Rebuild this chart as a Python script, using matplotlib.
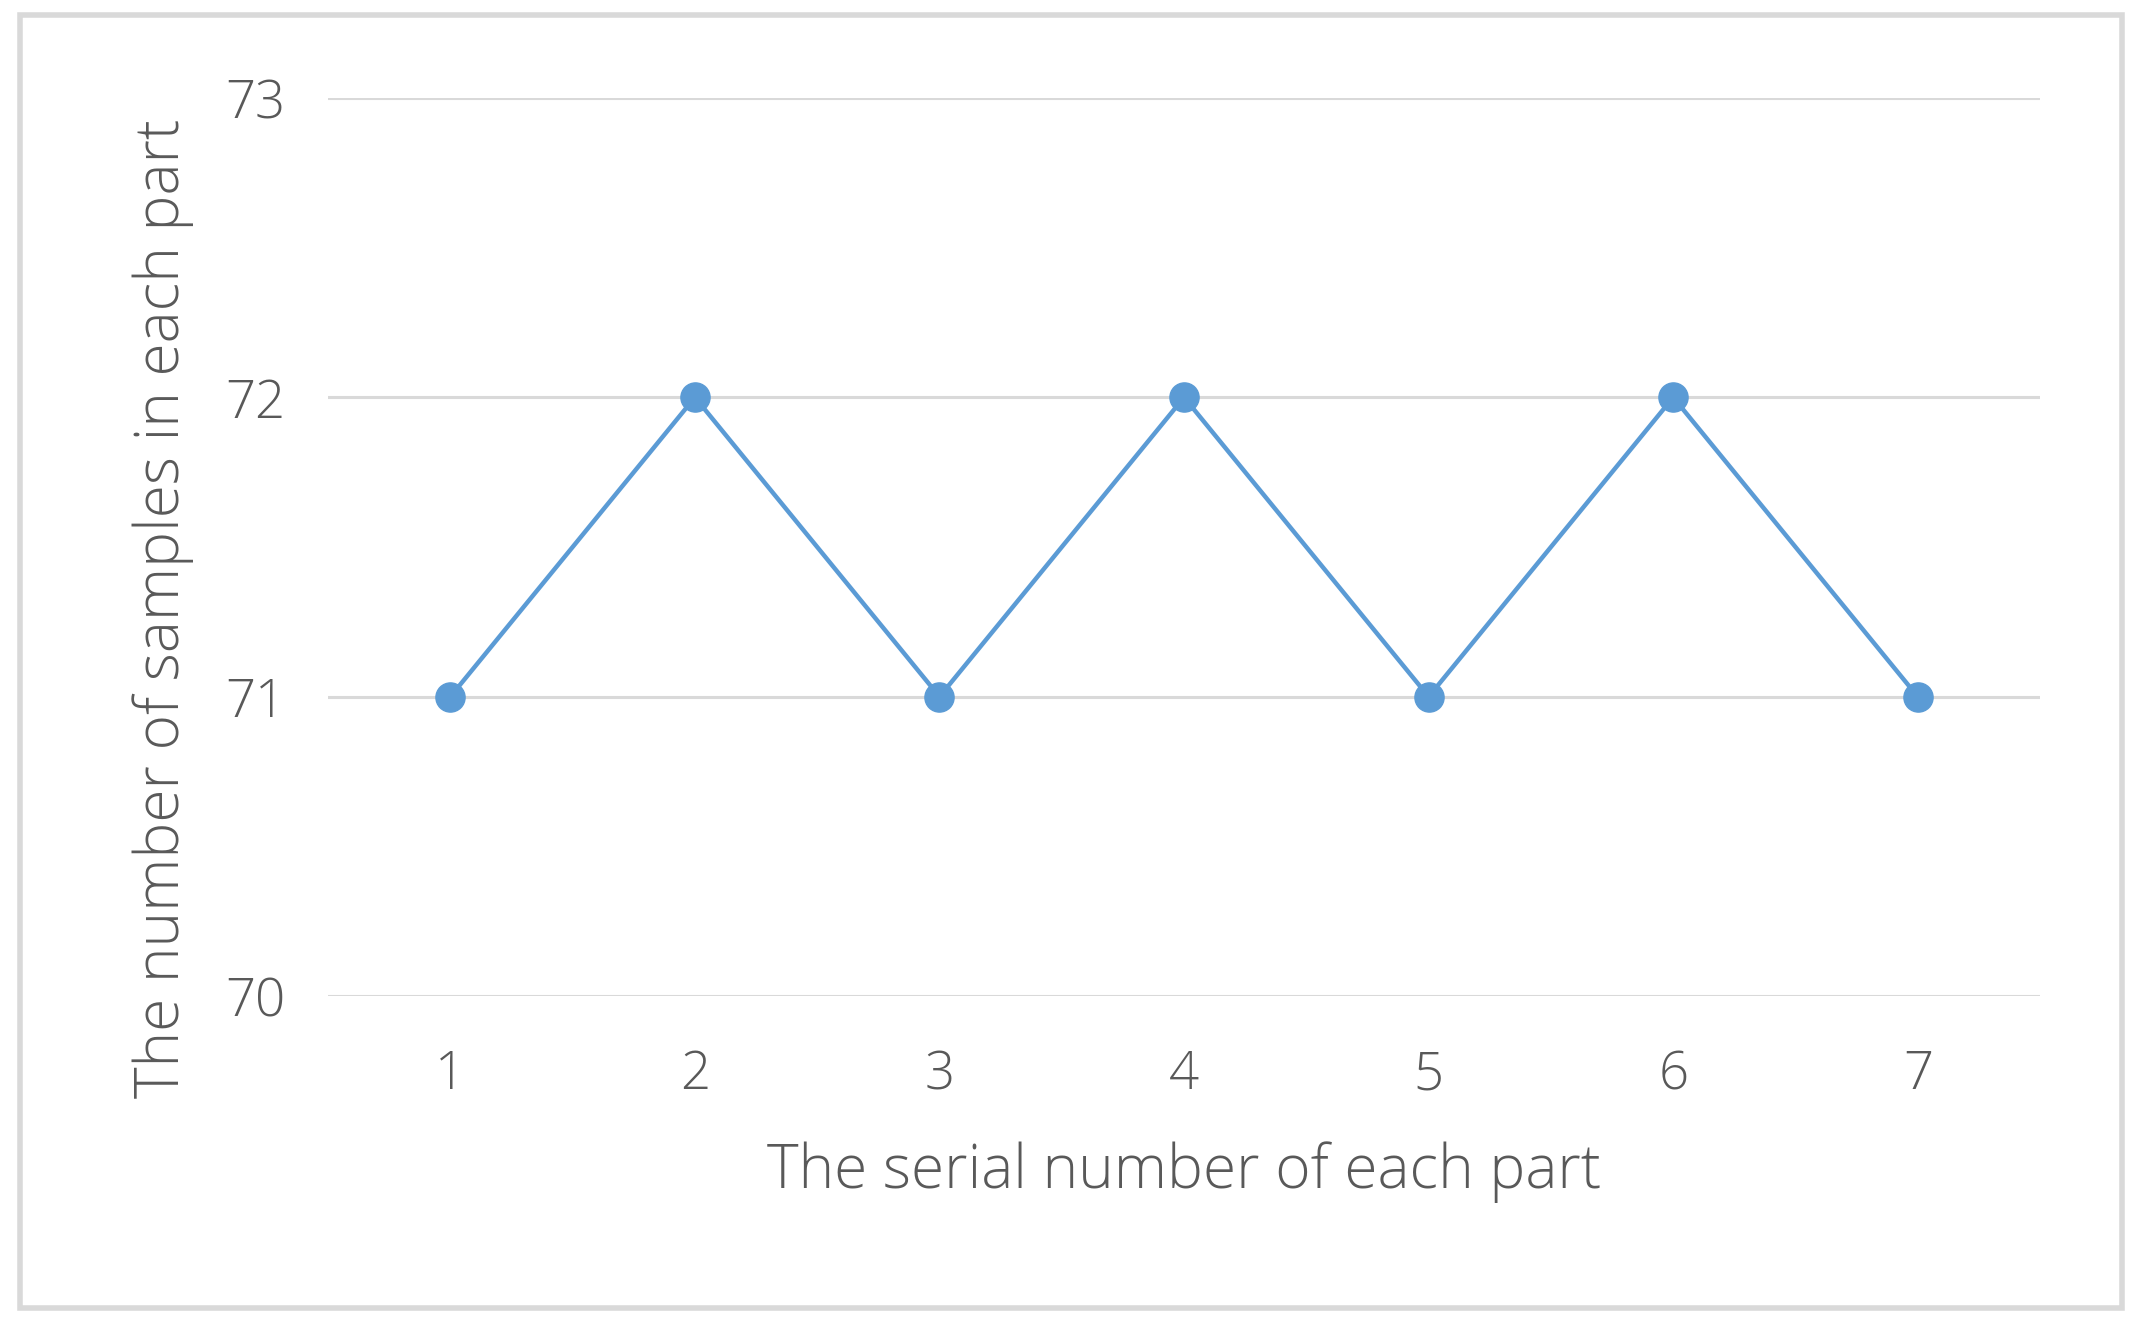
import matplotlib
matplotlib.use("Agg")
import matplotlib.pyplot as plt
from matplotlib.patches import Rectangle

parts = [1, 2, 3, 4, 5, 6, 7]
samples = [71, 72, 71, 72, 71, 72, 71]
y_ticks = [70, 71, 72, 73]

plt.rcParams['font.family'] = ['Open Sans', 'DejaVu Sans']
plt.rcParams['font.weight'] = 'light'
plt.rcParams['axes.labelweight'] = 'light'
text_col = '#595959'
grid_col = '#D9D9D9'
blue = '#5B9BD5'

fig = plt.figure(figsize=(21.4, 13.24), dpi=100)
ax = fig.add_axes([0.1533, 0.2477, 0.80, 0.6783])

ax.plot(parts, samples, color=blue, lw=3.2, marker='o', ms=21, zorder=3)

ax.set_xlim(0.5, 7.5)
ax.set_ylim(70, 73)
ax.set_yticks(y_ticks)
ax.set_xticks(parts)
ax.yaxis.grid(True, color=grid_col, lw=2.2)
ax.set_axisbelow(True)
for s in ax.spines.values():
    s.set_visible(False)
ax.tick_params(length=0, labelsize=38, labelcolor=text_col, pad=38)
ax.tick_params(axis='y', pad=31)

ax.set_xlabel("The serial number of each part", fontsize=43.5, color=text_col, labelpad=28)
ax.set_ylabel("The number of samples in each part", fontsize=43.5, color=text_col,
              labelpad=22, y=0.432)

# outer chart border
fig.patches.append(Rectangle((0.0095, 0.012), 0.982, 0.977, transform=fig.transFigure,
                             fill=False, edgecolor=grid_col, lw=4))

fig.savefig("out.png", dpi=100)
